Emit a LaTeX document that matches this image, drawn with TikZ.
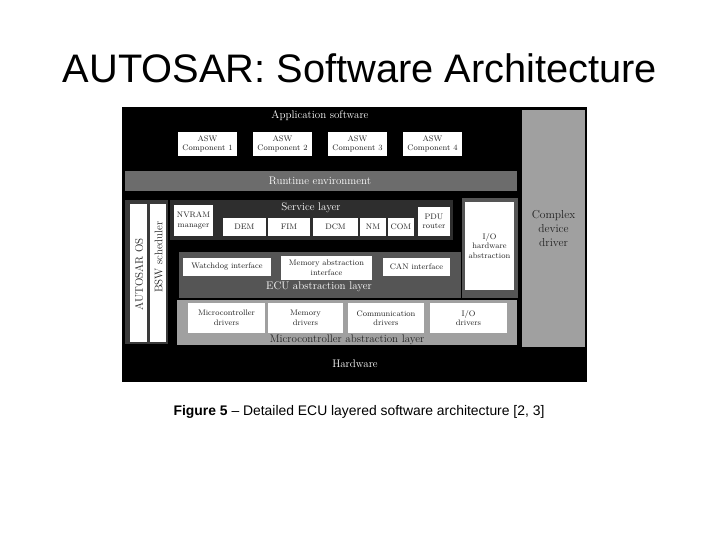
\documentclass[tikz,border=0pt]{standalone}
\usepackage{fontspec}
\newfontfamily\arialfont{Liberation Sans}
\definecolor{svcgray}{HTML}{2E2E2E}
\definecolor{osframe}{HTML}{3A3A3A}
\definecolor{ecugray}{HTML}{555555}
\definecolor{rtegray}{HTML}{6C6C6C}
\definecolor{mcalgray}{HTML}{A0A0A0}
\definecolor{boxtext}{HTML}{222222}
\tikzset{
  region/.style={inner sep=0pt, outer sep=0pt},
  wbox/.style={fill=white, inner sep=0pt, outer sep=0pt, align=center, text=boxtext,
    font=\fontsize{8}{9.5}\selectfont},
  layerlbl/.style={inner sep=0pt, text=white, font=\fontsize{11}{13}\selectfont},
}
\begin{document}
\begin{tikzpicture}[x=1pt,y=-1pt]
\path[use as bounding box, fill=white] (0,0) rectangle (720,540);
% title
\node[inner sep=0pt, font=\arialfont\fontsize{39.8}{44}\selectfont] (title) at (360,68) {AUTOSAR: Software Architecture};
% outer black (hardware)
\node[region, fill=black, minimum width=465pt, minimum height=275pt] (hwbg) at (354.5,244.5) {};
\node[layerlbl] (hw) at (355,364) {Hardware};
% application software
\node[layerlbl] (appl) at (320,116) {Application software};
\node[wbox, minimum width=59pt, minimum height=24pt] (a1) at (207.5,144) {ASW\\Component 1};
\node[wbox, minimum width=59pt, minimum height=24pt] (a2) at (282.5,144) {ASW\\Component 2};
\node[wbox, minimum width=59pt, minimum height=24pt] (a3) at (357.5,144) {ASW\\Component 3};
\node[wbox, minimum width=59pt, minimum height=24pt] (a4) at (432.5,144) {ASW\\Component 4};
% runtime environment
\node[region, fill=rtegray, minimum width=392pt, minimum height=20pt] (rte) at (321,181) {};
\node[layerlbl] (rtel) at (320,181) {Runtime environment};
% complex device driver
\node[region, fill=mcalgray, minimum width=63pt, minimum height=237pt, align=center, text=boxtext,
  font=\fontsize{11.5}{14}\selectfont] (cdd) at (553.5,228.5) {Complex\\device\\driver};
% left column: AUTOSAR OS and BSW scheduler
\node[region, fill=osframe, minimum width=43pt, minimum height=144pt] (osf) at (146.5,272) {};
\node[region, fill=white, minimum width=17pt, minimum height=138pt] (os) at (138.5,273) {};
\node[region, fill=white, minimum width=16pt, minimum height=138pt] (bsw) at (158,273) {};
\node[inner sep=0pt, rotate=90, text=boxtext, font=\fontsize{11}{13}\selectfont] (osl) at (139,274.5) {AUTOSAR OS};
\node[inner sep=0pt, rotate=90, text=boxtext, font=\fontsize{11}{13}\selectfont] (bswl) at (158.5,257) {BSW scheduler};
% service layer
\node[region, fill=svcgray, minimum width=283pt, minimum height=40pt] (svc) at (311.5,220) {};
\node[layerlbl] (svcl) at (311,208) {Service layer};
\node[wbox, minimum width=39pt, minimum height=31pt] (nvram) at (193.5,220.5) {NVRAM\\manager};
\node[wbox, minimum width=43pt, minimum height=18pt] (dem) at (244.5,227) {DEM};
\node[wbox, minimum width=42pt, minimum height=18pt] (fim) at (289,227) {FIM};
\node[wbox, minimum width=45pt, minimum height=18pt] (dcm) at (335.5,227) {DCM};
\node[wbox, minimum width=26pt, minimum height=18pt] (nm) at (373,227) {NM};
\node[wbox, minimum width=26pt, minimum height=18pt] (com) at (401,227) {COM};
\node[wbox, minimum width=32pt, minimum height=29pt] (pdu) at (434,221.5) {PDU\\router};
% ECU abstraction layer
\node[region, fill=ecugray, minimum width=282pt, minimum height=46pt] (ecu) at (320,275) {};
\node[region, fill=ecugray, draw=black, line width=0.8pt, minimum width=57pt, minimum height=101pt] (iof) at (489.5,247.5) {};
\node[wbox, minimum width=49pt, minimum height=88pt] (iohw) at (489.5,246) {I/O\\hardware\\abstraction};
\node[wbox, minimum width=88pt, minimum height=18pt] (wdg) at (227,267) {Watchdog interface};
\node[wbox, minimum width=91pt, minimum height=24pt] (memabs) at (326.5,268) {Memory abstraction\\interface};
\node[wbox, minimum width=67pt, minimum height=18pt] (can) at (416.5,267) {CAN interface};
\node[layerlbl] (ecul) at (319,287) {ECU abstraction layer};
% microcontroller abstraction layer
\node[region, fill=mcalgray, minimum width=340pt, minimum height=45pt] (mcal) at (347,322.5) {};
\node[wbox, minimum width=77pt, minimum height=30pt] (mc1) at (226.5,318) {Microcontroller\\drivers};
\node[wbox, minimum width=75pt, minimum height=30pt] (mc2) at (305.5,318) {Memory\\drivers};
\node[wbox, minimum width=76pt, minimum height=30pt] (mc3) at (386,318) {Communication\\drivers};
\node[wbox, minimum width=77pt, minimum height=30pt] (mc4) at (468.5,318) {I/O\\drivers};
\node[inner sep=0pt, text=boxtext, font=\fontsize{11}{13}\selectfont] (mcall) at (347,340) {Microcontroller abstraction layer};
% caption
\node[inner sep=0pt, font=\arialfont\fontsize{13.9}{16}\selectfont] (cap) at (359,412) {\textbf{Figure 5} \textendash{} Detailed ECU layered software architecture [2, 3]};
\end{tikzpicture}
\end{document}
